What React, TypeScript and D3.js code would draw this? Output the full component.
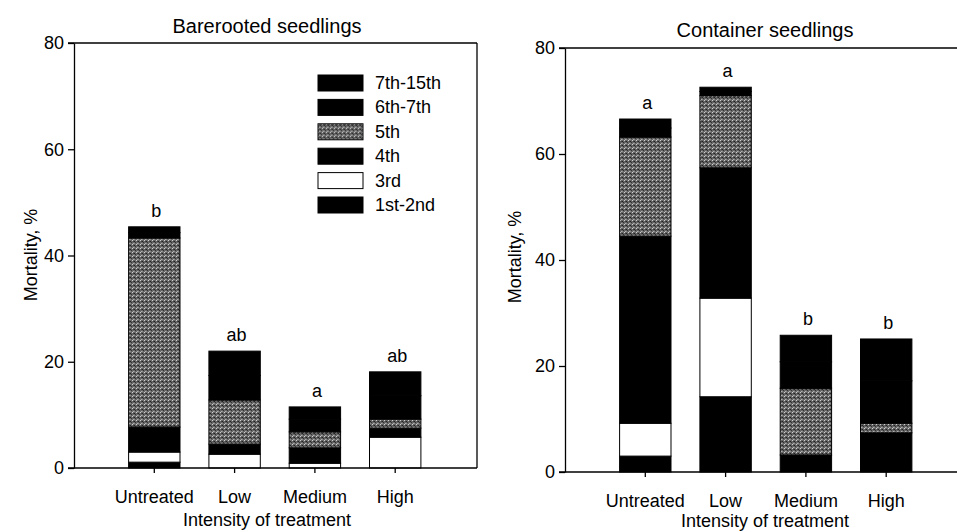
import React, { useRef, useEffect } from "react";
import * as d3 from "d3";

const TREATMENTS = ["Untreated", "Low", "Medium", "High"];
const STAGES = ["1st-2nd", "3rd", "4th", "5th", "6th-7th", "7th-15th"];
const STAGE_FILLS = ["#000", "#fff", "#000", "url(#stipple)", "#000", "#000"];
const Y_TICKS = [0, 20, 40, 60, 80];

// Barerooted seedlings: mortality (%) per instar stage
const BARE_1_2 = [1.1, 0, 0, 0];
const BARE_3 = [1.9, 2.6, 0.9, 5.8];
const BARE_4 = [4.7, 1.9, 2.9, 1.7];
const BARE_5 = [35.6, 8.3, 3.0, 1.7];
const BARE_6_7 = [1.0, 4.6, 2.4, 4.4];
const BARE_7_15 = [1.1, 4.6, 2.3, 4.5];
const BARE_LETTERS = ["b", "ab", "a", "ab"];

// Container seedlings
const CONT_1_2 = [3.0, 14.2, 0, 0];
const CONT_3 = [6.2, 18.6, 0, 0];
const CONT_4 = [35.3, 24.6, 3.2, 7.4];
const CONT_5 = [18.7, 13.6, 12.6, 1.8];
const CONT_6_7 = [1.7, 0.8, 5.0, 8.0];
const CONT_7_15 = [1.7, 0.8, 5.0, 7.9];
const CONT_LETTERS = ["a", "a", "b", "b"];

const FONT = "'Liberation Sans', Arial, Helvetica, sans-serif";

type Sel = d3.Selection<SVGSVGElement, unknown, null, undefined>;

interface PanelOpts {
  title: string;
  titleX: number;
  titleY: number;
  left: number;
  frameRight: number;
  top: number;
  bottom: number;
  series: number[][];
  letters: string[];
  yLabelX: number;
  yLabelY: number;
  xLabelY: number;
  closeRight: boolean;
  legend: boolean;
}

function drawPanel(svg: Sel, o: PanelOpts) {
  const rows = TREATMENTS.map((t, i) => {
    const r: Record<string, any> = { treatment: t };
    STAGES.forEach((s, k) => (r[s] = o.series[k][i]));
    return r;
  });
  const stacked = d3.stack<Record<string, any>>().keys(STAGES)(rows);

  const x = d3
    .scaleBand()
    .domain(TREATMENTS)
    .range([o.left, o.left + 5 * 80.3])
    .paddingInner(0.36)
    .paddingOuter(0.68);
  const y = d3.scaleLinear().domain([0, 80]).range([o.bottom, o.top]);

  const g = svg.append("g");

  // stacked bars
  stacked.forEach((layer, k) => {
    g.append("g")
      .selectAll("rect")
      .data(layer)
      .join("rect")
      .attr("x", (d) => x(d.data.treatment as string)!)
      .attr("width", x.bandwidth())
      .attr("y", (d) => y(d[1]))
      .attr("height", (d) => y(d[0]) - y(d[1]))
      .attr("fill", STAGE_FILLS[k])
      .attr("stroke", "#000")
      .attr("stroke-width", (d) => (d[1] - d[0] > 0 ? 1 : 0));
  });

  // significance letters
  const totals = rows.map((r) => d3.sum(STAGES, (s) => r[s] as number));
  g.append("g")
    .selectAll("text")
    .data(o.letters)
    .join("text")
    .attr("x", (_d, i) => x(TREATMENTS[i])! + x.bandwidth() / 2 + 2)
    .attr("y", (_d, i) => y(totals[i]) - 10)
    .attr("text-anchor", "middle")
    .style("font-family", FONT)
    .style("font-size", "18px")
    .text((d) => d);

  // y axis
  const yAxis = g
    .append("g")
    .attr("transform", `translate(${o.left},0)`)
    .call(
      d3.axisLeft(y).tickValues(Y_TICKS).tickSize(6).tickSizeOuter(0).tickPadding(4)
    );
  yAxis.selectAll("text").style("font-family", FONT).style("font-size", "18px").attr("fill", "#000");
  yAxis.selectAll("line,path").attr("stroke", "#000").attr("stroke-width", 1.3);

  // x axis
  const xAxis = g
    .append("g")
    .attr("transform", `translate(0,${o.bottom})`)
    .call(d3.axisBottom(x).tickSize(5).tickSizeOuter(0).tickPadding(17));
  xAxis.select(".domain").remove();
  xAxis.selectAll("text").style("font-family", FONT).style("font-size", "18px").attr("fill", "#000");
  xAxis.selectAll("line").attr("stroke", "#000").attr("stroke-width", 1.3);

  // frame
  g.append("line")
    .attr("x1", o.left - 6)
    .attr("x2", o.frameRight)
    .attr("y1", o.bottom)
    .attr("y2", o.bottom)
    .attr("stroke", "#000")
    .attr("stroke-width", 1.3);
  g.append("line")
    .attr("x1", o.left - 6)
    .attr("x2", o.frameRight)
    .attr("y1", o.top)
    .attr("y2", o.top)
    .attr("stroke", "#000")
    .attr("stroke-width", 1.3);
  if (o.closeRight) {
    g.append("line")
      .attr("x1", o.frameRight)
      .attr("x2", o.frameRight)
      .attr("y1", o.top)
      .attr("y2", o.bottom)
      .attr("stroke", "#000")
      .attr("stroke-width", 1.3);
  }

  // titles
  g.append("text")
    .attr("x", o.titleX)
    .attr("y", o.titleY)
    .attr("text-anchor", "middle")
    .style("font-family", FONT)
    .style("font-size", "20px")
    .text(o.title);

  g.append("text")
    .attr("x", o.titleX)
    .attr("y", o.xLabelY)
    .attr("text-anchor", "middle")
    .style("font-family", FONT)
    .style("font-size", "18px")
    .text("Intensity of treatment");

  g.append("text")
    .attr("transform", `translate(${o.yLabelX},${o.yLabelY}) rotate(-90)`)
    .attr("text-anchor", "middle")
    .style("font-family", FONT)
    .style("font-size", "18px")
    .text("Mortality, %");

  if (o.legend) {
    const order = STAGES.map((s, k) => ({ s, k })).reverse();
    const lg = g.append("g").attr("transform", "translate(318,75)");
    const item = lg
      .selectAll("g")
      .data(order)
      .join("g")
      .attr("transform", (_d, i) => `translate(0,${i * 24.4})`);
    item
      .append("rect")
      .attr("width", 45)
      .attr("height", 16)
      .attr("fill", (d) => STAGE_FILLS[d.k])
      .attr("stroke", "#000")
      .attr("stroke-width", 1);
    item
      .append("text")
      .attr("x", 57)
      .attr("y", 14)
      .style("font-family", FONT)
      .style("font-size", "18px")
      .text((d) => d.s);
  }
}

export default function App() {
  const svgRef = useRef<SVGSVGElement>(null);

  useEffect(() => {
    if (!svgRef.current) return;
    const svg = d3.select(svgRef.current);
    svg.selectAll("*").remove();

    // stippled grey for the 5th stage
    const pat = svg
      .append("defs")
      .append("pattern")
      .attr("id", "stipple")
      .attr("width", 4)
      .attr("height", 4)
      .attr("patternUnits", "userSpaceOnUse");
    pat.append("rect").attr("width", 4).attr("height", 4).attr("fill", "#666");
    [
      [0, 0, "#cfcfcf"],
      [2, 1, "#222"],
      [1, 3, "#b0b0b0"],
      [3, 2, "#333"],
      [2, 3, "#8a8a8a"],
      [1, 1, "#444"],
    ].forEach(([px, py, c]) =>
      pat.append("rect").attr("x", px).attr("y", py).attr("width", 1).attr("height", 1).attr("fill", c as string)
    );

    drawPanel(svg, {
      title: "Barerooted seedlings",
      titleX: 267,
      titleY: 33,
      left: 74,
      frameRight: 477,
      top: 43,
      bottom: 468,
      series: [BARE_1_2, BARE_3, BARE_4, BARE_5, BARE_6_7, BARE_7_15],
      letters: BARE_LETTERS,
      yLabelX: 37,
      yLabelY: 255,
      xLabelY: 526,
      closeRight: true,
      legend: true,
    });

    drawPanel(svg, {
      title: "Container seedlings",
      titleX: 765,
      titleY: 37,
      left: 565,
      frameRight: 960,
      top: 48,
      bottom: 472,
      series: [CONT_1_2, CONT_3, CONT_4, CONT_5, CONT_6_7, CONT_7_15],
      letters: CONT_LETTERS,
      yLabelX: 521,
      yLabelY: 257,
      xLabelY: 527,
      closeRight: false,
      legend: false,
    });
  }, []);

  return (
    <svg
      ref={svgRef}
      width={957}
      height={532}
      viewBox="0 0 957 532"
      style={{ position: "absolute", left: 0, top: 0, background: "#fff" }}
    />
  );
}
